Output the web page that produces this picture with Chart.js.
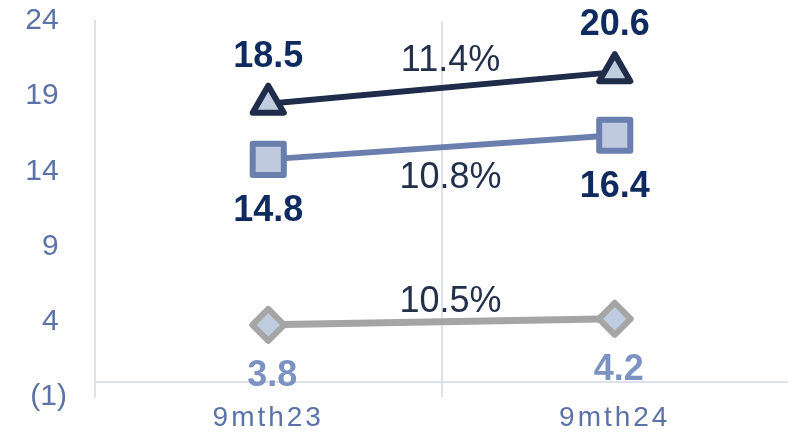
<!DOCTYPE html>
<html>
<head>
<meta charset="utf-8">
<script src="https://cdn.jsdelivr.net/npm/chart.js@4/dist/chart.umd.min.js"></script>
<style>
  html, body { margin: 0; padding: 0; background: #fff; overflow: hidden; }
  #wrap { position: relative; width: 793px; height: 434px; }
</style>
</head>
<body>
<div id="wrap"><canvas id="myChart"></canvas></div>
<script>
  const labels = ['9mth23', '9mth24'];
  const triangleValues = [18.5, 20.6];
  const squareValues = [14.8, 16.4];
  const diamondValues = [3.8, 4.2];
  const growthLabels = ['11.4%', '10.8%', '10.5%'];
  const yMin = -1;
  const yMax = 24;
  const yStep = 5;

  const FONT = '"Liberation Sans", Arial, sans-serif';
  const gridColor = '#dce1ec';

  // value labels above/below each point, growth % near the middle of each line
  const pointLabels = {
    id: 'pointLabels',
    afterDatasetsDraw(chart) {
      const ctx = chart.ctx;
      ctx.save();
      ctx.textAlign = 'center';
      ctx.textBaseline = 'middle';
      chart.data.datasets.forEach((ds, i) => {
        const pts = chart.getDatasetMeta(i).data;
        ctx.font = 'bold 36px ' + FONT;
        ctx.fillStyle = ds.labelColor;
        pts.forEach((p, j) => {
          ctx.fillText(ds.data[j].toFixed(1), p.x + ds.labelDx, p.y + ds.labelDy);
        });
        ctx.font = '36px ' + FONT;
        ctx.fillStyle = '#23304a';
        const mx = (pts[0].x + pts[1].x) / 2;
        const my = (pts[0].y + pts[1].y) / 2;
        ctx.fillText(growthLabels[i], mx + 9, my + ds.growthDy);
      });
      ctx.restore();
    }
  };

  // horizontal axis line sits at 0, not at the bottom of the value axis
  const zeroLine = {
    id: 'zeroLine',
    beforeDatasetsDraw(chart) {
      const ctx = chart.ctx;
      const y = Math.round(chart.scales.y.getPixelForValue(0));
      ctx.save();
      ctx.strokeStyle = gridColor;
      ctx.lineWidth = 2;
      ctx.beginPath();
      ctx.moveTo(chart.chartArea.left, y);
      ctx.lineTo(chart.chartArea.right, y);
      ctx.stroke();
      ctx.restore();
      ctx.lineJoin = 'round';
    }
  };

  // letter spaced category labels
  const spacedTicks = {
    id: 'spacedTicks',
    afterUpdate(chart) {
      const s = chart.scales.x;
      if (s._spaced) return;
      const orig = s.drawLabels;
      s.drawLabels = function (area) {
        chart.ctx.save();
        chart.ctx.letterSpacing = '3px';
        orig.call(this, area);
        chart.ctx.restore();
      };
      s._spaced = true;
    }
  };

  const noPadding = () => ({ left: 0, top: 0, right: 0, bottom: 0 });

  const data = {
    labels: labels,
    datasets: [{
      label: 'triangle',
      data: triangleValues,
      borderColor: '#1f2d4b',
      backgroundColor: '#c0cce0',
      borderWidth: 6,
      pointStyle: 'triangle',
      pointRadius: 18,
      pointBorderWidth: 6,
      labelColor: '#0e2a5e',
      labelDx: 0,
      labelDy: -47,
      growthDy: -27
    }, {
      label: 'square',
      data: squareValues,
      borderColor: '#6a7fae',
      backgroundColor: '#bfcadf',
      borderWidth: 6,
      pointStyle: 'rect',
      pointRadius: 22,
      pointBorderWidth: 6,
      labelColor: '#0e2a5e',
      labelDx: 0,
      labelDy: 52,
      growthDy: 31
    }, {
      label: 'diamond',
      data: diamondValues,
      borderColor: '#a5a5a5',
      backgroundColor: '#bfcbdf',
      borderWidth: 7,
      pointStyle: 'rectRot',
      pointRadius: 16,
      pointBorderWidth: 6,
      labelColor: '#7c93c2',
      labelDx: 4,
      labelDy: 51,
      growthDy: -20
    }]
  };

  const config = {
    type: 'line',
    data,
    options: {
      responsive: true,
      maintainAspectRatio: false,
      animation: false,
      layout: { autoPadding: false, padding: { top: 21, right: 5, left: 0, bottom: 0 } },
      plugins: { legend: { display: false }, tooltip: { enabled: false } },
      scales: {
        x: {
          offset: true,
          afterFit: (s) => { s.height = 37; s.getPadding = noPadding; },
          grid: {
            offset: true,
            drawTicks: false,
            lineWidth: 2,
            color: (c) => c.index > 0 ? gridColor : 'rgba(0,0,0,0)'
          },
          border: { display: false },
          ticks: {
            color: '#5b73a8',
            padding: 4,
            font: { size: 28, family: FONT }
          }
        },
        y: {
          min: yMin,
          max: yMax,
          afterFit: (s) => { s.width = 95; s.getPadding = noPadding; },
          grid: { display: false, drawTicks: false },
          border: { display: true, color: gridColor, width: 2 },
          ticks: {
            stepSize: yStep,
            padding: 28,
            color: '#5b73a8',
            font: { size: 30, family: FONT },
            callback: (v) => v < 0 ? '(' + Math.abs(v) + ')' : v + ' '
          }
        }
      }
    },
    plugins: [zeroLine, pointLabels, spacedTicks]
  };

  var myChart = new Chart(document.getElementById('myChart'), config);
</script>
</body>
</html>
